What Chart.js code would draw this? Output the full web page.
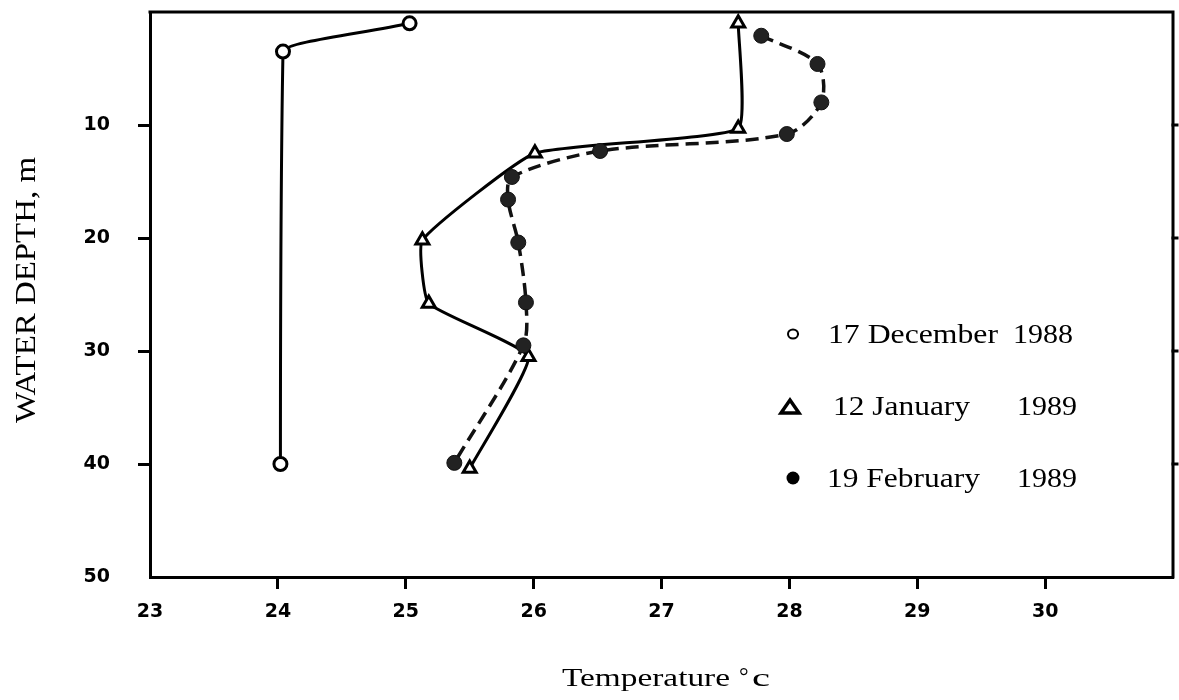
<!DOCTYPE html>
<html>
<head>
<meta charset="utf-8">
<script src="https://cdn.jsdelivr.net/npm/chart.js@4.4.1/dist/chart.umd.min.js"></script>
<style>
  html, body { margin: 0; padding: 0; background: #fff; }
  #wrap { width: 1179px; height: 700px; }
</style>
</head>
<body>
<div id="wrap"><canvas id="c" width="1179" height="700"></canvas></div>
<script>
// Temperature profiles (deg C) against water depth (m)
const decTemp  = [25.03, 24.04, 24.02];
const decDepth = [1.0, 3.5, 40.0];

const janTemp  = [27.60, 27.60, 26.01, 25.13, 25.18, 25.96, 25.50];
const janDepth = [1.0, 10.3, 12.5, 20.2, 25.8, 30.5, 40.4];

const febTemp  = [27.78, 28.22, 28.25, 27.98, 26.52, 25.83, 25.80, 25.88, 25.94, 25.92, 25.38];
const febDepth = [2.1, 4.6, 8.0, 10.8, 12.3, 14.6, 16.6, 20.4, 25.7, 29.5, 39.9];

const legendDates = ['17 December', '12 January', '19 February'];
const legendYears = ['1988', '1989', '1989'];

const tempTicks  = [23, 24, 25, 26, 27, 28, 29, 30];
const depthTicks = [10, 20, 30, 40, 50];

const xTitle = 'Temperature';
const xUnit = '°c';
const yTitle = 'WATER DEPTH, m';

function toPoints(xs, ys) { return xs.map((v, i) => ({ x: v, y: ys[i] })); }

const SERIF = '"Liberation Serif", "DejaVu Serif", serif';

// draw text squeezed/stretched to a given width
function drawFit(ctx, text, x, y, size, width, align) {
  ctx.save();
  ctx.font = size + 'px ' + SERIF;
  const w = ctx.measureText(text).width;
  ctx.translate(x, y);
  ctx.scale(width / w, 1);
  ctx.textAlign = align || 'left';
  ctx.textBaseline = 'alphabetic';
  ctx.fillText(text, 0, 0);
  ctx.restore();
}

const decorations = {
  id: 'decorations',
  afterDraw(chart) {
    const { ctx, chartArea: a, scales } = chart;
    ctx.save();
    ctx.strokeStyle = '#000';
    ctx.fillStyle = '#000';
    ctx.lineWidth = 3;
    ctx.lineCap = 'square';
    // top and right edges of the frame
    ctx.beginPath();
    ctx.moveTo(a.left, a.top);
    ctx.lineTo(a.right, a.top);
    ctx.lineTo(a.right, a.bottom);
    ctx.stroke();
    // small ticks on the right edge
    [10, 20, 30, 40].forEach(v => {
      const py = scales.y.getPixelForValue(v);
      ctx.beginPath();
      ctx.moveTo(a.right, py);
      ctx.lineTo(a.right + 4, py);
      ctx.stroke();
    });

    // axis titles
    drawFit(ctx, xTitle, 562, 686, 25, 168, 'left');
    ctx.font = '24px ' + SERIF;
    ctx.textAlign = 'left';
    ctx.fillText(xUnit.charAt(0), 739, 684);
    drawFit(ctx, xUnit.charAt(1), 752, 686, 25, 18, 'left');

    ctx.save();
    ctx.translate(35, 290);
    ctx.rotate(-Math.PI / 2);
    drawFit(ctx, yTitle, 0, 0, 30, 266, 'center');
    ctx.restore();

    // legend
    const rows = [
      { y: 343, mx: 793, my: 334, dx: 828, dw: 170, yx: 1013 },
      { y: 415, mx: 790, my: 407, dx: 833, dw: 137, yx: 1017 },
      { y: 487, mx: 793, my: 478, dx: 827, dw: 153, yx: 1017 }
    ];
    rows.forEach((r, i) => {
      drawFit(ctx, legendDates[i], r.dx, r.y, 27, r.dw, 'left');
      drawFit(ctx, legendYears[i], r.yx, r.y, 27, 60, 'left');
    });
    // legend symbols
    ctx.lineWidth = 2;
    ctx.beginPath();
    ctx.ellipse(rows[0].mx, rows[0].my, 5, 4.5, 0, 0, Math.PI * 2);
    ctx.stroke();
    ctx.lineWidth = 3.5;
    ctx.lineJoin = 'miter';
    ctx.beginPath();
    ctx.moveTo(rows[1].mx - 9, rows[1].my + 6);
    ctx.lineTo(rows[1].mx + 9, rows[1].my + 6);
    ctx.lineTo(rows[1].mx, rows[1].my - 7);
    ctx.closePath();
    ctx.stroke();
    ctx.beginPath();
    ctx.arc(rows[2].mx, rows[2].my, 6.5, 0, Math.PI * 2);
    ctx.fill();
    ctx.restore();
  }
};

const tickFont = { family: '"DejaVu Sans", sans-serif', weight: 'bold', size: 19 };

new Chart(document.getElementById('c'), {
  type: 'line',
  data: {
    datasets: [
      {
        label: legendDates[0] + ' ' + legendYears[0],
        data: toPoints(decTemp, decDepth),
        borderColor: '#000',
        borderWidth: 3,
        cubicInterpolationMode: 'monotone',
        pointStyle: 'circle',
        pointRadius: 6.5,
        pointBorderWidth: 3,
        pointBorderColor: '#000',
        pointBackgroundColor: '#fff'
      },
      {
        label: legendDates[2] + ' ' + legendYears[2],
        data: toPoints(febTemp, febDepth),
        borderColor: '#111',
        borderWidth: 3.5,
        borderDash: [13, 7],
        tension: 0.3,
        pointStyle: 'circle',
        pointRadius: 7.5,
        pointBorderWidth: 1,
        pointBorderColor: '#111',
        pointBackgroundColor: '#222'
      },
      {
        label: legendDates[1] + ' ' + legendYears[1],
        data: toPoints(janTemp, janDepth),
        borderColor: '#000',
        borderWidth: 3,
        tension: 0.13,
        pointStyle: 'triangle',
        pointRadius: 7.5,
        pointBorderWidth: 3,
        pointBorderColor: '#000',
        pointBackgroundColor: '#fff'
      }
    ]
  },
  options: {
    indexAxis: 'y',
    responsive: false,
    animation: false,
    devicePixelRatio: 1,
    layout: { autoPadding: false, padding: { left: 0, right: 6, top: 12, bottom: 0 } },
    plugins: { legend: { display: false }, tooltip: { enabled: false } },
    scales: {
      x: {
        type: 'linear',
        position: 'bottom',
        min: 23,
        max: 31,
        afterBuildTicks(s) { s.ticks = tempTicks.concat([31]).map(v => ({ value: v })); },
        afterFit(s) { s.height = 123; s.paddingLeft = 0; s.paddingRight = 0; },
        ticks: {
          callback: v => tempTicks.includes(v) ? String(v) : '',
          font: tickFont,
          color: '#000',
          padding: 12,
          maxRotation: 0,
          autoSkip: false
        },
        grid: {
          drawOnChartArea: false,
          tickLength: 12,
          tickWidth: 3,
          tickColor: c => (c.tick && (c.tick.value === 31 || c.tick.value === 23)) ? 'rgba(0,0,0,0)' : '#000'
        },
        border: { display: true, color: '#000', width: 3 }
      },
      y: {
        type: 'linear',
        position: 'left',
        reverse: true,
        min: 0,
        max: 50,
        afterBuildTicks(s) { s.ticks = [0].concat(depthTicks).map(v => ({ value: v })); },
        afterFit(s) { s.width = 150; s.paddingTop = 0; s.paddingBottom = 0; },
        ticks: {
          callback: v => depthTicks.includes(v) ? String(v) : '',
          font: tickFont,
          color: '#000',
          padding: 28,
          autoSkip: false
        },
        grid: {
          drawOnChartArea: false,
          tickLength: 12,
          tickWidth: 3,
          tickColor: c => (c.tick && (c.tick.value === 0 || c.tick.value === 50)) ? 'rgba(0,0,0,0)' : '#000'
        },
        border: { display: true, color: '#000', width: 3 }
      }
    }
  },
  plugins: [decorations]
});
</script>
</body>
</html>
